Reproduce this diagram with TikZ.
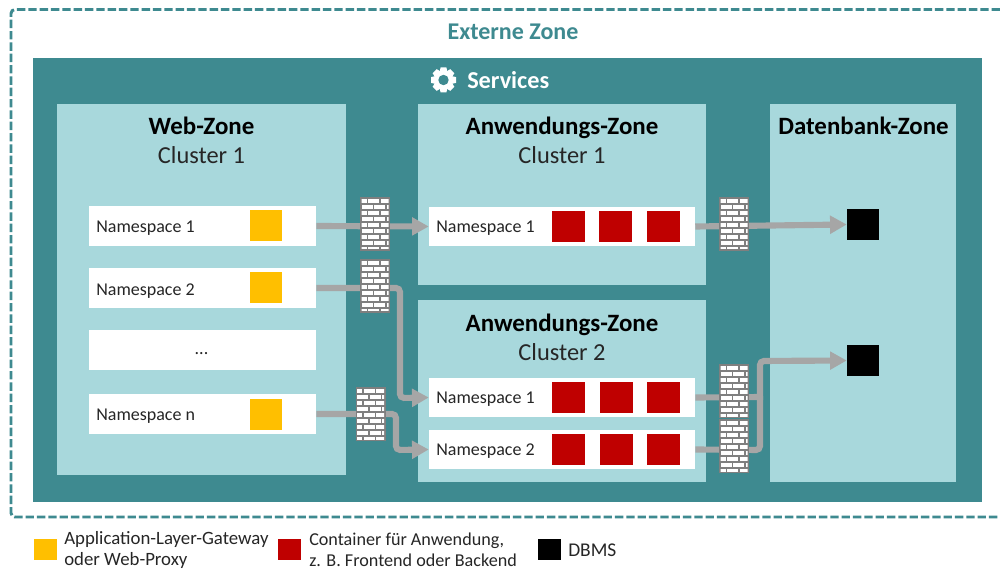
\documentclass[tikz,border=0pt]{standalone}
\usepackage{fontspec}
\setmainfont{Carlito}
\usetikzlibrary{arrows.meta}
\definecolor{teal}{HTML}{3E8A90}
\definecolor{lightz}{HTML}{A8D8DC}
\definecolor{amberc}{HTML}{FFBF00}
\definecolor{redc}{HTML}{BF0000}
\definecolor{wireg}{HTML}{A6A6A6}
\definecolor{brickg}{HTML}{7F7F7F}
\definecolor{textc}{HTML}{262626}
\newcommand{\sq}[5]{\node[#1,minimum width=#4*0.75pt,minimum height=#5*0.75pt] (#2) at (#3) {};}
\newcommand{\fwall}[3]{% name, cx, cy
  \node[fwbox] (#1) at (#2,#3) {};
  \begin{scope}
    \clip (#2-13.5,#3-25) rectangle (#2+13.5,#3+25);
    \foreach \r in {0,...,8}{
      \pgfmathsetmacro{\yy}{#3-25+\r*6}
      \pgfmathsetmacro{\off}{mod(\r,2)==0 ? -6 : 0}
      \foreach \c in {0,1,2,3}{
        \pgfmathsetmacro{\xx}{#2-13.5+\off+\c*12.5}
        \fill[white] (\xx,\yy) rectangle (\xx+11,\yy+4.4);
      }
    }
  \end{scope}
}
\tikzset{
  x=0.75pt,y=-0.75pt,
  zonebox/.style={fill=lightz,draw=none,inner sep=0},
  nsbox/.style={fill=white,draw=none,inner sep=0},
  gw/.style={fill=amberc,draw=none,inner sep=0},
  ctr/.style={fill=redc,draw=none,inner sep=0},
  dbms/.style={fill=black,draw=none,inner sep=0},
  fwbox/.style={fill=brickg,draw=none,inner sep=0,minimum width=22.5pt,minimum height=40.5pt},
  wire/.style={draw=wireg,line width=4.6pt,rounded corners=3pt},
  arr/.style={wire,-{Triangle[length=12.5pt,width=13pt]}},
  nslabel/.style={font=\fontsize{13.5}{15}\selectfont,text=textc,anchor=west,inner sep=0},
  ztitle/.style={font=\fontsize{18.7}{20}\selectfont\bfseries,text=black,inner sep=0},
  zsub/.style={font=\fontsize{18.3}{20}\selectfont,text=textc,inner sep=0},
  leg/.style={font=\fontsize{13.6}{15.6}\selectfont,text=textc,anchor=west,align=left,inner sep=0},
}
\begin{document}
\begin{tikzpicture}
\useasboundingbox (0,0) rectangle (1000,570);
\fill[white] (0,0) rectangle (1000,570);
% outer
\draw[teal,line width=2.2pt,dash pattern=on 6.3pt off 2.2pt,rounded corners=3pt] (1000,9.5) -- (11,9.5) -- (11,517) -- (1000,517);
\node[font=\fontsize{18}{20}\selectfont\bfseries,text=teal,inner sep=0] (ext) at (513,31.5) {Externe Zone};
\fill[teal] (33,58) rectangle (982,502);
% gear
\begin{scope}[shift={(443.5,80)}]
  \foreach \a in {0,45,...,315}{
    \fill[white,rotate=\a] (-2.9,-12.5) -- (2.9,-12.5) -- (4.4,-6) -- (-4.4,-6) -- cycle;
  }
  \fill[white] (0,0) circle (9*0.75pt);
  \fill[teal] (0,0) circle (5.2*0.75pt);
\end{scope}
\node[font=\fontsize{18.2}{20}\selectfont\bfseries,text=white,inner sep=0,anchor=west] (svc) at (467,80.5) {Services};
% zones
\sq{zonebox}{web}{201.5,289.5}{289}{371}
\sq{zonebox}{appa}{562,194.5}{288}{181}
\sq{zonebox}{appb}{562,391}{288}{182}
\sq{zonebox}{db}{863,293}{186}{378}
\node[ztitle] (tw) at (201.5,126) {Web-Zone};
\node[zsub] (sw) at (201.5,155) {Cluster 1};
\node[ztitle] (ta) at (562,127.5) {Anwendungs-Zone};
\node[zsub] (sa) at (562,155) {Cluster 1};
\node[ztitle] (tb) at (562,324.5) {Anwendungs-Zone};
\node[zsub] (sb) at (562,352) {Cluster 2};
\node[ztitle] (td) at (863.5,126) {Datenbank-Zone};
% namespaces web
\sq{nsbox}{wa}{202.5,226}{227}{40}
\sq{nsbox}{wb}{202.5,288}{227}{40}
\sq{nsbox}{wc}{202.5,350}{227}{40}
\sq{nsbox}{wd}{202.5,414}{227}{40}
\node[nslabel] at (96,228) {Namespace 1};
\node[nslabel] at (96,291) {Namespace 2};
\node[font=\fontsize{13.5}{15}\selectfont,text=textc,inner sep=0] at (201.5,354) {...};
\node[nslabel] at (96,416.5) {Namespace n};
\sq{gw}{ga}{266,226}{32}{31}
\sq{gw}{gb}{266,288}{32}{31}
\sq{gw}{gd}{266,414}{32}{31}
% namespaces app
\sq{nsbox}{aa}{562,226.5}{266}{39}
\sq{nsbox}{ba}{562,397.5}{266}{39}
\sq{nsbox}{bb}{562,449.5}{266}{39}
\node[nslabel] at (436,228.5) {Namespace 1};
\node[nslabel] at (436,399.5) {Namespace 1};
\node[nslabel] at (436,451.5) {Namespace 2};
\sq{ctr}{c1}{568.5,226.5}{33}{31}
\sq{ctr}{c2}{615.5,226.5}{33}{31}
\sq{ctr}{c3}{663.5,226.5}{33}{31}
\sq{ctr}{c4}{568.5,397.5}{33}{31}
\sq{ctr}{c5}{616.5,397.5}{33}{31}
\sq{ctr}{c6}{663.5,397.5}{33}{31}
\sq{ctr}{c7}{568.5,449.5}{33}{31}
\sq{ctr}{c8}{616.5,449.5}{33}{31}
\sq{ctr}{c9}{663.5,449.5}{33}{31}
\sq{dbms}{d1}{863,224.5}{32}{31}
\sq{dbms}{d2}{863,360.5}{32}{31}
% connectors
\coordinate (jn) at (763,397);
\draw[arr] (wa.east) -- (aa.west);
\draw[arr] (wb.east) -- (400,288) -- (400,398) -- (ba.west);
\draw[arr] (wd.east) -- (396,414) -- (396,450) -- (bb.west);
\draw[arr] (aa.east) -- (d1.west);
\draw[wire] (ba.east) -- (jn);
\draw[arr] (bb.east) -- (760,450) -- (760,361) -- (d2.west);
% firewalls
\fwall{f1}{375}{224}
\fwall{f2}{375}{286}
\fwall{f3}{370.5}{414}
\fwall{f4}{734}{224}
\fwall{f5}{734}{391}
\fwall{f6}{734}{446}
% legend
\sq{gw}{la}{45.5,549}{23}{21}
\sq{ctr}{lb}{289.5,549}{23}{21}
\sq{dbms}{lc}{549.5,549}{23}{21}
\node[leg,font=\fontsize{14.1}{15.6}\selectfont] at (64,550) {Application-Layer-Gateway\\oder Web-Proxy};
\node[leg] at (309,550) {Container für Anwendung,\\z. B. Frontend oder Backend};
\node[leg,font=\fontsize{14.6}{16}\selectfont] at (568,550.5) {DBMS};
\end{tikzpicture}
\end{document}
